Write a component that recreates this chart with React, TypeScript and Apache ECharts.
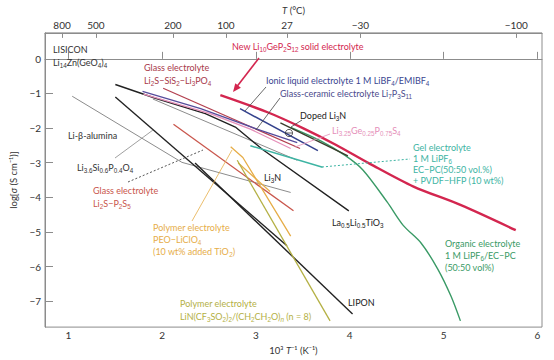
import React, { useEffect, useRef } from 'react';
import * as echarts from 'echarts';

// Axis ticks
const invTTicks = [1, 2, 3, 4, 5, 6];
const logSigmaTicks = [-7, -6, -5, -4, -3, -2, -1, 0];
const tempTicksC = [800, 500, 200, 100, 27, -30, -100];

// Series values: [1000/T (K^-1), log sigma (S/cm)]
const lgpsLine = [[2.62, -1.05], [3.13, -1.55], [3.5, -2.0], [3.85, -2.48], [4.22, -3.04], [4.68, -3.69], [5.18, -4.22], [5.77, -4.95]];
const ionicLiquidLine = [[2.83, -1.44], [3.66, -2.65]];
const glassCeramicLine = [[1.79, -0.94], [2.41, -1.44], [3.01, -2.03], [3.44, -2.42]];
const thioLisiconLine = [[1.8, -1.02], [2.51, -1.58], [2.94, -2.03], [3.37, -2.59]];
const sis2GlassLine = [[2.01, -0.85], [3.47, -2.59]];
const p2s5GlassLine = [[2.12, -1.89], [3.4, -4.39]];
const lisiconLine = [[1.5, -0.74], [1.92, -1.13], [2.46, -1.58], [2.78, -1.97], [3.07, -2.62], [3.99, -4.39]];
const li3nLine = [[1.5, -1.1], [3.33, -5.4]];
const liponLine = [[2.35, -3.01], [4.03, -7.37]];
const organicLine = [[3.37, -1.98], [3.69, -2.37], [3.95, -2.79], [4.14, -3.21], [4.4, -4.14], [4.57, -4.81], [4.76, -5.32], [4.94, -6.08], [5.08, -6.86], [5.18, -7.57]];
const dopedLi3nLine = [[3.26, -1.85], [3.98, -2.8]];
const gelLine = [[2.94, -2.51], [3.71, -3.13]];
const betaAluminaLine = [[1.04, -1.08], [2.21, -2.99], [3.37, -3.86]];
const lisipoLine = [[1.9, -1.16], [3.44, -2.93]];
const peoLine = [[2.73, -2.54], [2.86, -2.85], [3.37, -5.12]];
const peoShortLine = [[2.81, -3.01], [3.15, -3.83]];
const litfsiPeoLine = [[2.8, -2.93], [3.79, -7.57]];

const FONT = 'Lato, "Open Sans", sans-serif';

const C = {
  lgps: '#d3264f',
  navy: '#33418c',
  purple: '#574c9c',
  pink: '#e58fb9',
  sis2: '#b3404f',
  p2s5: '#c9564c',
  black: '#222222',
  green: '#3a9a66',
  doped: '#3b3d2c',
  teal: '#3db4a3',
  gray: '#8c8c8c',
  gold: '#e6ad48',
  olive: '#b4b044',
};

const seriesDefs: [any[], string, number, boolean?][] = [
  [betaAluminaLine, C.gray, 1],
  [lisipoLine, C.gray, 1],
  [li3nLine, C.black, 1.4],
  [liponLine, C.black, 1.4],
  [lisiconLine, C.black, 1.4],
  [p2s5GlassLine, C.p2s5, 1.3],
  [sis2GlassLine, C.sis2, 1.3],
  [thioLisiconLine, C.pink, 1.3],
  [glassCeramicLine, C.purple, 1.3],
  [ionicLiquidLine, C.navy, 1.5],
  [gelLine, C.teal, 1.5],
  [peoShortLine, C.gold, 1.3],
  [peoLine, C.gold, 1.3],
  [litfsiPeoLine, C.olive, 1.3],
  [organicLine, C.green, 1.4, true],
  [dopedLi3nLine, C.doped, 1.4],
  [lgpsLine, C.lgps, 2.4, true],
];

const RICH = {
  s: { fontSize: 6.3, lineHeight: 6, verticalAlign: 'bottom' },
  i: { fontStyle: 'italic' },
  si: { fontSize: 6.3, lineHeight: 6, verticalAlign: 'bottom', fontStyle: 'italic' },
};

function rt(t: string) {
  return t
    .replace(/~\{([^}]*)\}/g, '{si|$1}')
    .replace(/_\{([^}]*)\}/g, '{s|$1}')
    .replace(/\*\{([^}]*)\}/g, '{i|$1}');
}

// Annotation labels: [text, x, y, color]
const labels: [string, number, number, string][] = [
  ['LISICON', 53, 49, '#333'],
  ['Li_{14}Zn(GeO_{4})_{4}', 53, 62, '#333'],
  ['Glass electrolyte', 144, 67, '#a8394a'],
  ['Li_{2}S\u2212SiS_{2}\u2212Li_{3}PO_{4}', 144, 80, '#a8394a'],
  ['New Li_{10}GeP_{2}S_{12} solid electrolyte', 232, 46, C.lgps],
  ['Ionic liquid electrolyte 1 M LiBF_{4}/EMIBF_{4}', 266, 80, '#3a4590'],
  ['Glass-ceramic electrolyte Li_{7}P_{3}S_{11}', 280, 93, '#4b4a8c'],
  ['Doped Li_{3}N', 300, 115, '#222'],
  ['Li_{3.25}Ge_{0.25}P_{0.75}S_{4}', 332, 130, C.pink],
  ['Gel electrolyte', 413, 147, C.teal],
  ['1 M LiPF_{6}', 413, 158, C.teal],
  ['EC\u2212PC(50:50 vol.%)', 413, 169, C.teal],
  ['+ PVDF\u2212HFP (10 wt%)', 413, 180, C.teal],
  ['Li-*{\u03b2}-alumina', 68, 135, '#333'],
  ['Li_{3.6}Si_{0.6}P_{0.4}O_{4}', 77, 167, '#333'],
  ['Glass electrolyte', 93, 190, C.p2s5],
  ['Li_{2}S\u2212P_{2}S_{5}', 93, 203, C.p2s5],
  ['Li_{3}N', 264, 177, '#222'],
  ['Polymer electrolyte', 153, 227, C.gold],
  ['PEO\u2212LiClO_{4}', 153, 239, C.gold],
  ['(10 wt% added TiO_{2})', 153, 251, C.gold],
  ['La_{0.5}Li_{0.5}TiO_{3}', 332, 222, '#222'],
  ['Organic electrolyte', 445, 243, C.green],
  ['1 M LiPF_{6}/EC\u2212PC', 445, 255, C.green],
  ['(50:50 vol%)', 445, 267, C.green],
  ['LIPON', 348, 302, '#222'],
  ['Polymer electrolyte', 180, 303, C.olive],
  ['LiN(CF_{3}SO_{2})_{2}/(CH_{2}CH_{2}O)~{n} (*{n} = 8)', 180, 316, C.olive],
];

// Leader lines: [x1, y1, x2, y2, color, dashed]
const leaders: [number, number, number, number, string, boolean][] = [
  [266, 87, 245, 111, '#444', false],
  [280, 98, 256, 130, '#444', false],
  [302, 120, 291, 127, '#444', false],
  [330, 134, 295, 147, C.pink, false],
  [322, 167, 410, 159, C.teal, true],
  [115, 158, 153, 130, '#888', false],
  [128, 182, 203, 150, '#555', true],
  [192, 221, 232, 150, C.gold, false],
];

function buildOption() {
  const graphic: any[] = [];
  labels.forEach(([t, x, y, c]) => {
    graphic.push({
      type: 'text', x, y, z: 100,
      style: { text: rt(t), fill: c, fontSize: 9, fontFamily: FONT, lineHeight: 12, verticalAlign: 'middle', rich: RICH },
    });
  });
  leaders.forEach(([x1, y1, x2, y2, c, d]) => {
    graphic.push({
      type: 'line', z: 100,
      shape: { x1, y1, x2, y2 },
      style: { stroke: c, lineWidth: d ? 1 : 0.8, lineDash: d ? [2, 2] : null },
    });
  });
  // arrow to LGPS
  graphic.push({ type: 'line', z: 100, shape: { x1: 259, y1: 58, x2: 237, y2: 86.5 }, style: { stroke: C.lgps, lineWidth: 1.6 } });
  graphic.push({ type: 'polygon', z: 100, shape: { points: [[233, 92], [240.9, 87.7], [235.3, 83.3]] }, style: { fill: C.lgps } });
  // circled symbol
  graphic.push({ type: 'circle', z: 100, shape: { cx: 289, cy: 133, r: 3.6 }, style: { fill: 'none', stroke: '#333', lineWidth: 0.8 } });
  graphic.push({ type: 'line', z: 100, shape: { x1: 286, y1: 133, x2: 292, y2: 133 }, style: { stroke: '#333', lineWidth: 0.8 } });

  const axisText = { color: '#333', fontSize: 10, fontFamily: FONT };
  const axisLine = { show: true, lineStyle: { color: '#8c8c8c', width: 1 } };
  const nameRich = { i: { fontStyle: 'italic', fontSize: 9.5, fontFamily: FONT, color: '#333' } };

  return {
    animation: false,
    backgroundColor: '#ffffff',
    grid: { left: 45, right: 12, top: 29, bottom: 28, show: true, borderColor: '#8c8c8c', borderWidth: 1 },
    xAxis: [
      {
        type: 'value', min: 0.75, max: 6.05, position: 'bottom',
        axisLine, splitLine: { show: false },
        axisTick: { show: true, inside: true, length: 7, lineStyle: { color: '#8c8c8c' }, customValues: invTTicks },
        axisLabel: { ...axisText, margin: 3, customValues: invTTicks, formatter: (v: number) => String(v) },
        name: '10\u00b3 {i|T}\u207b\u00b9 (K\u207b\u00b9)', nameLocation: 'middle', nameGap: 15,
        nameTextStyle: { ...axisText, fontSize: 9.5, rich: nameRich },
      },
      {
        type: 'value', min: 0.75, max: 6.05, position: 'top',
        axisLine, splitLine: { show: false },
        axisTick: { show: true, inside: true, length: 5, lineStyle: { color: '#8c8c8c' }, customValues: tempTicksC.map((t) => 1000 / (t + 273.15)) },
        axisLabel: {
          ...axisText, margin: 3,
          customValues: tempTicksC.map((t) => 1000 / (t + 273.15)),
          formatter: (v: number) => {
            const t = Math.round(1000 / v - 273.15);
            return t < 0 ? '\u2212' + Math.abs(t) : String(t);
          },
        },
        name: '{i|T} (\u00b0C)', nameLocation: 'middle', nameGap: 17,
        nameTextStyle: { ...axisText, fontSize: 9.5, rich: nameRich },
      },
    ],
    yAxis: [
      {
        type: 'value', min: -7.75, max: 0.75,
        axisLine, splitLine: { show: false },
        axisTick: { show: true, inside: true, length: 8, lineStyle: { color: '#8c8c8c' }, customValues: logSigmaTicks },
        axisLabel: { ...axisText, margin: 4, customValues: logSigmaTicks, formatter: (v: number) => (v < 0 ? '\u2212' + Math.abs(v) : String(v)) },
        name: 'log[{i|\u03c3} (S cm\u207b\u00b9)]', nameLocation: 'middle', nameGap: 20,
        nameTextStyle: { ...axisText, fontSize: 9.5, rich: nameRich },
      },
    ],
    series: seriesDefs.map(([data, color, width, smooth]) => ({
      type: 'line', data, xAxisIndex: 0, yAxisIndex: 0,
      showSymbol: false, symbol: 'none', silent: true,
      smooth: smooth ? 0.3 : false,
      lineStyle: { color, width },
    })),
    graphic,
  };
}

export default function App() {
  const ref = useRef<HTMLDivElement>(null);
  useEffect(() => {
    const chart = echarts.init(ref.current!, null, { renderer: 'svg' });
    chart.setOption(buildOption() as any);
    return () => chart.dispose();
  }, []);
  return <div ref={ref} style={{ position: 'absolute', left: 0, top: 0, width: 554, height: 360, background: '#fff' }} />;
}
